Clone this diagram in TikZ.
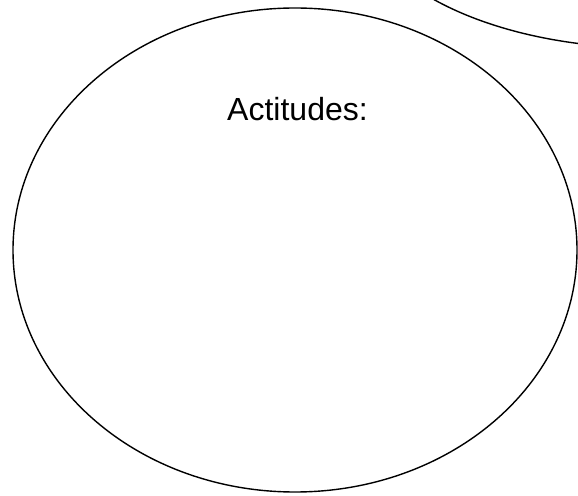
\documentclass[tikz,border=0pt]{standalone}
\usepackage{fontspec}
\setmainfont{Liberation Sans}
\usetikzlibrary{shapes.geometric}
\tikzset{blob/.style={draw, ellipse, line width=0.7pt, inner sep=0pt}}
\begin{document}
\begin{tikzpicture}[x=0.5pt,y=-0.5pt]
        \useasboundingbox (0,0) rectangle (578,496);
        % big ellipse and the one cut off at the top right
        \node[blob, minimum width=282pt, minimum height=242pt] (actitudes) at (295,250) {};
        \node[blob, minimum width=292pt, minimum height=148pt] (corner) at (650,-100) {};
        \node[font=\fontsize{16}{19}\selectfont, anchor=base] (title) at (297.5,121) {Actitudes:};
    \end{tikzpicture}
\end{document}
